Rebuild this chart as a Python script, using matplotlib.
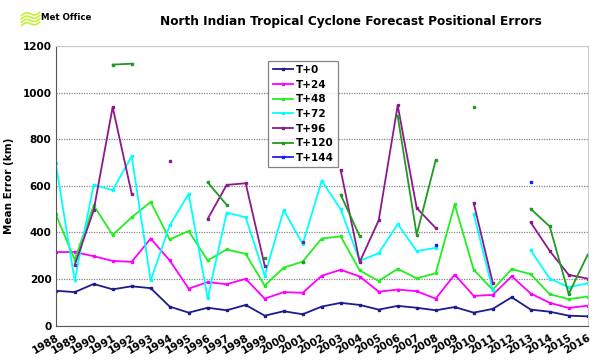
import numpy as np
import matplotlib
matplotlib.use("Agg")
import matplotlib.pyplot as plt
from matplotlib.lines import Line2D

nan = np.nan
years = list(range(1988, 2017))

t0 = [150, 144, 179, 156, 169, 161, 82, 56, 77, 66, 89, 43, 62, 49, 82, 98, 89, 69, 85, 77,
      66, 80, 56, 72, 122, 69, 60, 43, 40]
t24 = [316, 316, 298, 278, 274, 374, 280, 159, 187, 178, 201, 116, 144, 141, 214, 240, 211, 146, 155, 148,
       116, 219, 128, 132, 212, 138, 98, 76, 86]
t48 = [479, 283, 516, 389, 465, 531, 370, 406, 280, 327, 308, 172, 249, 275, 374, 383, 237, 192, 244, 203,
       225, 520, 240, 154, 243, 221, 135, 114, 125]
t72 = [698, 194, 605, 581, 727, 194, 430, 566, 118, 485, 465, 214, 496, 350, 622, 499, 278, 311, 436, 320,
       334, nan, 479, 154, nan, 323, 202, 165, 182]
t96 = [nan, 260, 495, 938, 566, nan, 708, nan, 458, 604, 611, 258, nan, 357, nan, 667, 273, 452, 945, 505,
       419, nan, 526, 185, nan, 443, 321, 218, 202]
t120 = [nan, nan, nan, 1120, 1124, nan, nan, nan, 615, 518, nan, 290, nan, 272, nan, 562, 384, nan, 899, 390,
        710, nan, 938, nan, nan, 501, 426, 136, 305]
t144 = [nan, nan, nan, nan, nan, nan, nan, nan, nan, nan, nan, nan, nan, nan, nan, nan, nan, nan, nan, nan,
        347, nan, nan, nan, nan, 615, nan, nan, nan]

series = [("T+0", t0, "#1c1c8c"), ("T+24", t24, "#ff00ff"), ("T+48", t48, "#22ee22"),
          ("T+72", t72, "#00ffff"), ("T+96", t96, "#8b1a8b"), ("T+120", t120, "#229922"),
          ("T+144", t144, "#1a1aff")]

fig = plt.figure(figsize=(6.0, 3.62), dpi=100)
ax = fig.add_axes([0.0928, 0.1003, 0.8867, 0.7727])

for name, vals, col in series:
    ax.plot(years, np.array(vals, dtype=float), color=col, lw=1.3, marker="s", ms=2.0,
            mec=col, mfc=col, label=name)

ax.set_xlim(1988, 2016)
ax.set_ylim(0, 1200)
ax.set_yticks(range(0, 1201, 200))
ax.set_xticks(years)
ax.set_xticklabels([str(y) for y in years], rotation=30, ha="right", rotation_mode="anchor",
                   fontsize=7.5, fontweight="bold")
for lab in ax.get_yticklabels():
    lab.set_fontsize(7.5)
    lab.set_fontweight("bold")
ax.tick_params(axis="both", length=0, pad=3)
ax.tick_params(axis="x", pad=5)
ax.yaxis.grid(True, linestyle=(0, (1, 1)), color="#888888", lw=0.9)
ax.set_axisbelow(True)
for s in ["top", "right"]:
    ax.spines[s].set_color("#cccccc")
ax.spines["left"].set_color("#555555")
ax.spines["bottom"].set_color("#555555")
ax.set_ylabel("Mean Error (km)", fontsize=7.5, fontweight="bold", labelpad=6)

leg = ax.legend(loc="upper left", bbox_to_anchor=(0.39, 0.966),
                prop={"weight": "bold", "size": 7.5}, frameon=True, fancybox=False,
                handlelength=2.0, handletextpad=0.2, labelspacing=0.45, borderpad=0.4)
leg.get_frame().set_edgecolor("#666666")
leg.get_frame().set_linewidth(0.9)

fig.text(0.585, 0.94, "North Indian Tropical Cyclone Forecast Positional Errors",
         ha="center", va="center", fontsize=8.7, fontweight="bold")

# Met Office logo
fig.text(0.068, 0.952, "Met Office", ha="left", va="center", fontsize=6.2, fontweight="bold")
for i in range(4):
    xs = np.linspace(0.036, 0.066, 20)
    ys = 0.93 + i * 0.009 + 0.005 * np.sin((xs - 0.036) / 0.03 * 2 * np.pi) + (xs - 0.036) * 0.3
    fig.add_artist(Line2D(xs, ys, color="#c8f040", lw=1.3, transform=fig.transFigure))

fig.savefig("out.png", dpi=100)
